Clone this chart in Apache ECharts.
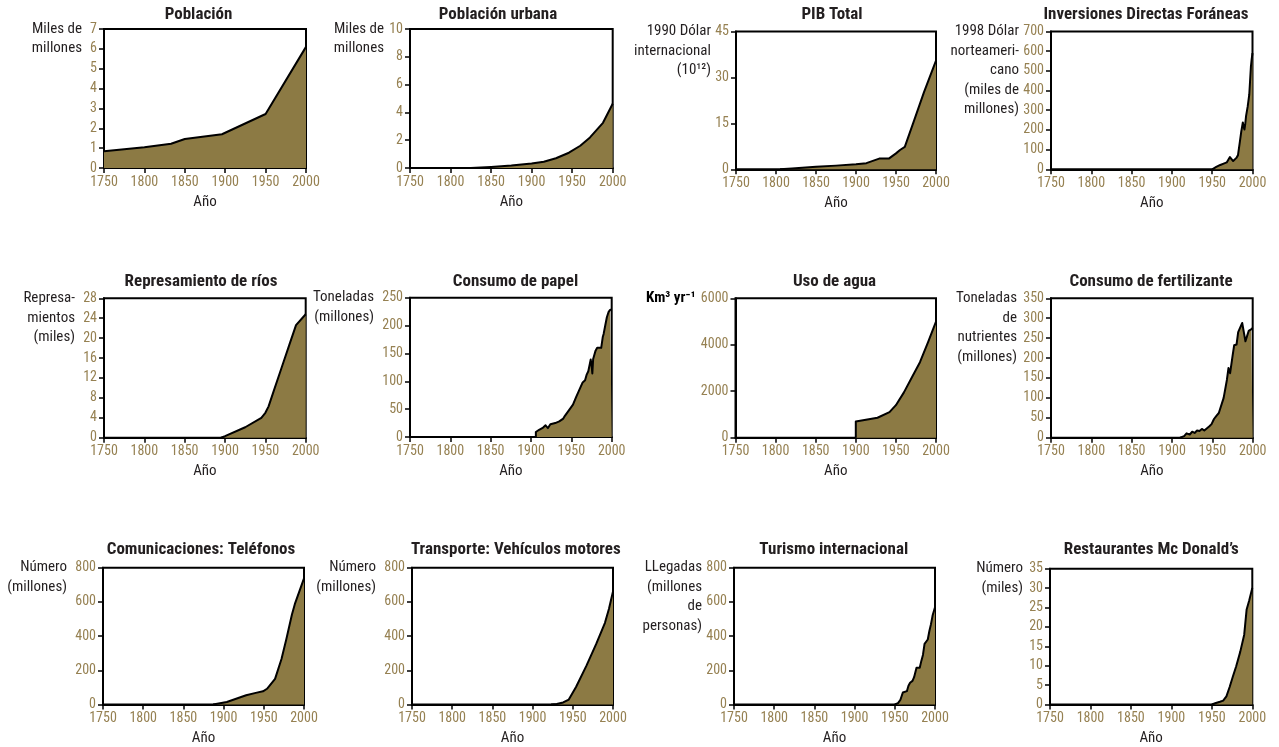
<!DOCTYPE html>
<html>
<head>
<meta charset="utf-8">
<script src="https://cdn.jsdelivr.net/npm/echarts@6/dist/echarts.min.js"></script>
<style>
html,body{margin:0;padding:0;background:#fff;}
#c{width:1279px;height:747px;}
</style>
</head>
<body>
<div id="c"></div>
<script>
// ---------- DATA ----------
const titles = ["Población","Población urbana","PIB Total","Inversiones Directas Foráneas",
  "Represamiento de ríos","Consumo de papel","Uso de agua","Consumo de fertilizante",
  "Comunicaciones: Teléfonos","Transporte: Vehículos motores","Turismo internacional","Restaurantes Mc Donald’s"];
const yNames = ["Miles de\nmillones","Miles de\nmillones","1990 Dólar\ninternacional\n(10¹²)",
  "1998 Dólar\nnorteameri-\ncano\n(miles de\nmillones)","Represa-\nmientos\n(miles)","Toneladas\n(millones)",
  "Km³ yr⁻¹","Toneladas\nde\nnutrientes\n(millones)","Número\n(millones)","Número\n(millones)",
  "LLegadas\n(millones\nde\npersonas)","Número\n(miles)"];
const xName = "Año";
const xTicks = [1750,1800,1850,1900,1950,2000];
const yMax  = [7,10,45,700,28,250,6000,350,800,800,800,35];
const yStep = [1,2,15,100,4,50,2000,50,200,200,200,5];

const poblacion = [[1750,0.84],[1800,1.05],[1833,1.22],[1850,1.46],[1896,1.70],[1950,2.72],[2000,6.1]];
const poblacionUrbana = [[1825,0],[1850,0.08],[1875,0.18],[1900,0.32],[1915,0.45],[1930,0.7],[1946,1.1],[1960,1.6],[1972,2.2],[1988,3.25],[2000,4.62]];
const pib = [[1805,0],[1820,0.25],[1850,0.85],[1875,1.2],[1900,1.65],[1913,2.0],[1929,3.5],[1941,3.5],[1950,5.2],[1955,6.3],[1961,7.3],[1973,16.2],[1985,25.2],[2000,35.5]];
const inversiones = [[1950,0],[1955,12],[1960,22],[1965,30],[1968,35],[1970,45],[1972,62],[1973,72],[1974,55],[1976,42],[1978,52],[1980,58],[1982,72],[1984,130],[1986,190],[1988,238],[1989,215],[1990,202],[1991,230],[1992,270],[1994,318],[1995,328],[1996,380],[1997,450],[1998,520],[1999,560],[2000,590]];
const represas = [[1895,0],[1900,0.3],[1925,2.1],[1945,4.0],[1950,5.0],[1954,6.3],[1960,9.2],[1970,14.0],[1980,18.8],[1988,22.6],[2000,24.8]];
const papel = [[1906,0],[1906,9],[1910,13],[1915,17],[1918,21],[1921,16],[1924,23],[1930,25],[1935,28],[1940,33],[1942,38],[1944,42],[1948,50],[1952,58],[1956,72],[1960,85],[1964,98],[1967,102],[1969,112],[1971,118],[1973,132],[1974,139],[1975,130],[1976,114],[1977,140],[1978,145],[1980,155],[1982,160],[1987,160],[1989,180],[1990,185],[1992,200],[1994,215],[1996,224],[1998,228],[2000,229]];
const agua = [[1900,0],[1900,700],[1927,860],[1942,1100],[1950,1400],[1960,1950],[1970,2600],[1980,3250],[1990,4100],[2000,5000]];
const fertilizante = [[1910,0],[1915,4],[1918,11],[1922,8],[1925,15],[1928,12],[1931,18],[1934,17],[1937,22],[1940,18],[1943,23],[1946,28],[1949,34],[1952,47],[1955,55],[1958,62],[1960,66],[1964,100],[1968,145],[1970,175],[1972,162],[1975,205],[1977,232],[1980,234],[1982,265],[1984,262],[1987,288],[1989,265],[1991,242],[1993,255],[1995,268],[1998,272],[2000,275]];
const telefonos = [[1887,0],[1904,15],[1928,54],[1940,68],[1949,77],[1954,92],[1964,150],[1972,266],[1978,381],[1985,526],[1989,593],[2000,738]];
const vehiculos = [[1923,0],[1930,3],[1938,12],[1945,29],[1954,102],[1967,227],[1979,353],[1990,478],[1995,560],[2000,661]];
const turismo = [[1950,0],[1954,8],[1957,28],[1960,70],[1962,75],[1965,78],[1967,110],[1969,127],[1972,138],[1974,160],[1977,215],[1979,205],[1981,215],[1983,255],[1985,290],[1987,355],[1989,362],[1991,380],[1993,430],[1995,470],[1997,520],[2000,568]];
const mcdonalds = [[1950,0],[1955,0.4],[1960,0.7],[1964,1.0],[1968,2.1],[1972,4.5],[1976,7.2],[1980,9.8],[1985,13.5],[1990,18],[1993,24.5],[1996,26.7],[2000,30]];

const allSeries = [poblacion,poblacionUrbana,pib,inversiones,represas,papel,agua,fertilizante,telefonos,vehiculos,turismo,mcdonalds];

// ---------- LAYOUT ----------
const boxes = [ // [left, top, right, bottom] in px
  [104,29,306,168],[410,29,612.7,168],[736,31.5,936,169.3],[1051,31.5,1252.5,169.3],
  [104,298.3,305.7,437.7],[410,297.7,611.7,437],[735.5,298.3,936,437.7],[1051,298.3,1252.7,437.7],
  [103,567.7,304,706],[412,567.7,613,706],[734,567.7,935,706],[1050,568.7,1252.3,706.7]];
const nameOffset = [22,26,25,32,29,36,40,34,36,36,32,27];
const titleX = [198.5,498,832,1146,201,515.5,834.5,1151,201,515.8,833.8,1151.3];
const titleY = [15,15,15,15,281.7,281.7,281.7,281.7,549.3,549.3,549.3,549.3];

const FONT = '"Liberation Sans Narrow","Roboto Condensed","DejaVu Sans Condensed","Arial Narrow",sans-serif';
const LABEL = '#968152';
const FILL = '#8c7a44';
const DARK = '#231f20';

const grid=[], xAxis=[], yAxis=[], series=[], graphic=[];
boxes.forEach((b,i)=>{
  grid.push({left:b[0], top:b[1], width:b[2]-b[0], height:b[3]-b[1], show:true, borderColor:'#000', borderWidth:2, backgroundColor:'transparent'});
  xAxis.push({type:'value', gridIndex:i, min:xTicks[0], max:xTicks[xTicks.length-1], interval:xTicks[1]-xTicks[0],
    name:xName, nameLocation:'middle', nameGap:34,
    nameTextStyle:{color:DARK, fontFamily:FONT, fontSize:15, verticalAlign:'middle'},
    axisLine:{show:true, onZero:false, lineStyle:{color:'#000', width:2}},
    axisTick:{show:true, length:5, lineStyle:{color:'#000', width:1.5}},
    axisLabel:{color:LABEL, fontFamily:FONT, fontSize:14, margin:7, formatter:v=>String(v)},
    splitLine:{show:false}});
  yAxis.push({type:'value', gridIndex:i, min:0, max:yMax[i], interval:yStep[i],
    axisLine:{show:true, lineStyle:{color:'#000', width:2}},
    axisTick:{show:true, length:5, lineStyle:{color:'#000', width:1.5}},
    axisLabel:{color:LABEL, fontFamily:FONT, fontSize:14, margin:7, formatter:v=>String(v)},
    splitLine:{show:false}});
  series.push({type:'line', xAxisIndex:i, yAxisIndex:i, data:allSeries[i], showSymbol:false, symbol:'none',
    lineStyle:{color:'#000', width:2, join:'round'}, areaStyle:{color:FILL, opacity:1}, silent:true, animation:false, z:1});
  graphic.push({type:'text', x:titleX[i], y:titleY[i], silent:true,
    style:{text:titles[i], fill:DARK, font:'bold 17px '+FONT, align:'center', verticalAlign:'middle'}});
  const isKm = yNames[i].startsWith('Km');
  graphic.push({type:'text', x:b[0]-nameOffset[i], y:b[1]-9.75, silent:true,
    style:{text:yNames[i], fill:isKm?'#000':DARK, font:(isKm?'bold ':'')+'15px '+FONT, align:'right', verticalAlign:'top', lineHeight:19.5}});
});

const chart = echarts.init(document.getElementById('c'), null, {renderer:'canvas'});
chart.setOption({animation:false, backgroundColor:'#fff', grid, xAxis, yAxis, series, graphic});
</script>
</body>
</html>
